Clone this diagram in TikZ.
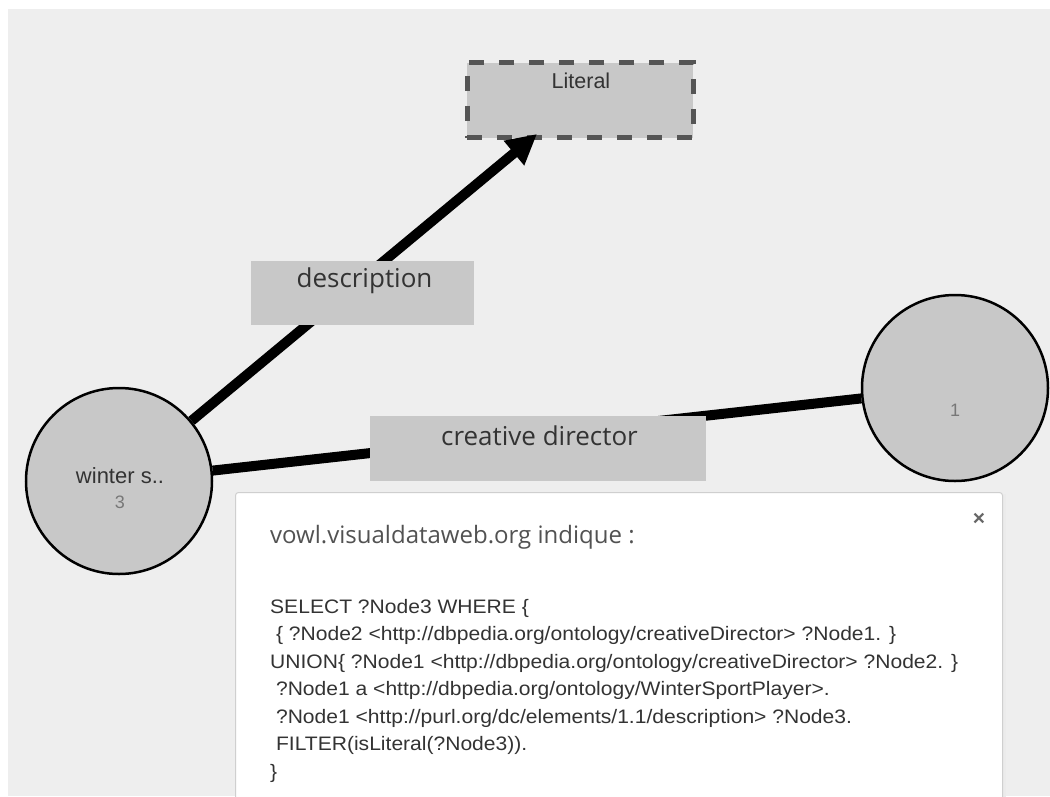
\documentclass[tikz,border=0pt]{standalone}
\usepackage{fontspec}
\setmainfont{Liberation Sans}
\newfontfamily\labelfont{Open Sans}
\newfontfamily\dlgfont{Open Sans}
\newfontfamily\codefont[FakeStretch=1.08]{Liberation Sans}
\usetikzlibrary{arrows.meta}
\definecolor{bg}{HTML}{EEEEEE}
\definecolor{nodefill}{HTML}{C8C8C8}
\definecolor{dashcol}{HTML}{555555}
\definecolor{txt}{HTML}{333333}
\definecolor{numcol}{HTML}{777777}
\definecolor{dlgborder}{HTML}{CFCFCF}
\tikzset{
  x=1pt, y=-1pt,
  circnode/.style={circle, draw=black, line width=2.5pt, fill=nodefill, minimum size=186pt, inner sep=0pt},
  propbox/.style={fill=nodefill, inner sep=0pt},
  edge/.style={line width=10pt, black},
  proptext/.style={font=\labelfont\fontsize{26}{30}\selectfont, text=txt},
}
\begin{document}
\begin{tikzpicture}
\useasboundingbox (0,0) rectangle (1050,796);
\fill[white] (0,0) rectangle (1050,796);
\fill[bg] (8,9) rectangle (1050,796);

% nodes
\node[circnode] (winter) at (119,481) {};
\node[circnode] (one) at (955,388) {};
\node[draw=dashcol, line width=5pt, dash pattern=on 15pt off 15pt, fill=nodefill, minimum width=226pt, minimum height=75pt, inner sep=0pt] (literal) at (580,100) {};
\node[font=\fontsize{21.5}{24}\selectfont, text=txt] (littext) at (581,81) {Literal};
\node[font=\fontsize{22}{24}\selectfont, text=txt] (wtext) at (120,476) {winter s..};
\node[font=\fontsize{18}{20}\selectfont, text=numcol] (wnum) at (120,502) {3};
\node[font=\fontsize{18}{20}\selectfont, text=numcol] (onum) at (955,410) {1};

% edges
\coordinate (arrowtip) at (537,134);
\draw[edge, -{Triangle[length=30pt,width=30pt]}] (winter) -- (arrowtip);
\draw[edge] (winter) -- (one);

% property labels
\node[propbox, minimum width=223pt, minimum height=64pt] (descbox) at (362.5,293) {};
\node[proptext] (desclbl) at (364.5,281) {description};
\node[propbox, minimum width=336pt, minimum height=65pt] (cdbox) at (538,448.5) {};
\node[proptext] (cdlbl) at (539.5,436) {creative director};

% dialog
\fill[black!8] (237,494) rectangle (1006,800);
\node[draw=dlgborder, line width=1pt, fill=white, rounded corners=3pt, minimum width=767pt, minimum height=320pt, inner sep=0pt, anchor=north west] (dialog) at (235,492) {};
\node[font=\dlgfont\fontsize{24}{28}\selectfont, text=txt!85, anchor=west, inner sep=0pt] (dtitle) at (270,537) {vowl.visualdataweb.org indique :};
\node[font=\fontsize{21}{21}\selectfont\bfseries, text=black!60] (dclose) at (979,519) {\symbol{"00D7}};
\node[font=\codefont\fontsize{19.5}{27.5}\selectfont, text=txt, anchor=north west, align=left, inner sep=0pt] (dcode) at (270,599) {%
SELECT ?Node3 WHERE \{\\
\ \{ ?Node2 <http://dbpedia.org/ontology/creativeDirector> ?Node1. \}\\
UNION\{ ?Node1 <http://dbpedia.org/ontology/creativeDirector> ?Node2. \}\\
\ ?Node1 a <http://dbpedia.org/ontology/WinterSportPlayer>.\\
\ ?Node1 <http://purl.org/dc/elements/1.1/description> ?Node3.\\
\ FILTER(isLiteral(?Node3)).\\
\}};
\end{tikzpicture}
\end{document}
